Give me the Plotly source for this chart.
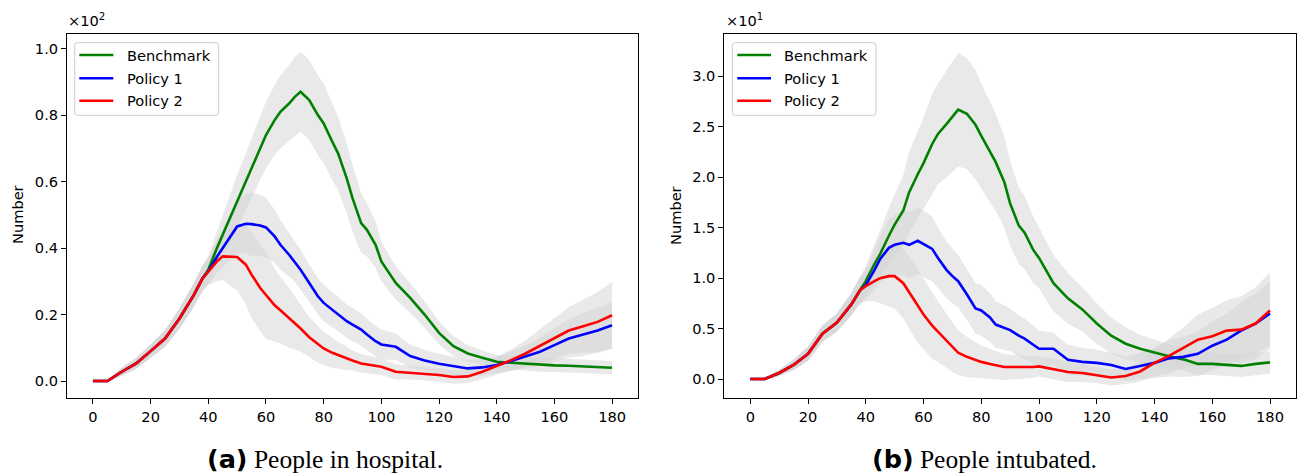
import plotly.graph_objects as go

W, H = 1304, 475

# ---------------- data ----------------
days = [0, 5, 10, 15, 20, 25, 30, 35, 38, 40, 43, 45, 48, 50, 53, 55, 58, 60,
        63, 65, 68, 70, 72, 75, 78, 80, 83, 85, 88, 90, 93, 95, 98, 100,
        105, 110, 115, 120, 125, 130, 135, 140, 145, 150, 155, 160, 165, 170, 175, 180]

series_names = ["Benchmark", "Policy 1", "Policy 2"]
series_colors = ["#008000", "#0000ff", "#ff0000"]

# (a) People in hospital (counts)
hosp_bench = [0, 0, 2.8, 5.3, 9.0, 12.8, 18.8, 25.9, 30.9,
              33.5, 40, 44, 50, 54, 60, 64, 70, 74, 78.5, 81, 83.5, 85.5, 87, 84.5, 80, 77.5,
              72, 68.5, 61, 55, 47.5, 45.5, 41, 36, 29.5, 25, 20, 14.5, 10.5, 8.3, 7.0, 5.8,
              5.5, 5.2, 4.8, 4.7, 4.6, 4.4, 4.1, 4.0]
hosp_p1 = [0, 0, 2.8, 5.3, 9.0, 12.8, 18.8, 25.9, 30.9,
           33, 37.4, 40, 43.8, 46.5, 47.3, 47.2, 46.8, 46.2, 43.5, 41, 38, 35.8, 33.5, 29.5, 25.5, 23.5,
           21.5, 20, 18, 17, 15.5, 14, 12, 11, 10.3, 7.5, 6.2, 5.2, 4.6, 3.8, 4.1, 4.8,
           6, 7.3, 8.8, 10.8, 12.8, 14, 15.2, 16.8]
hosp_p2 = [0, 0, 2.8, 5.3, 9.0, 12.8, 18.8, 25.9, 30.9,
           33, 36, 37.5, 37.4, 37.3, 35, 32, 28, 25.8, 22.8, 21.3, 19, 17.5, 15.8, 13.2, 11, 9.8,
           8.5, 7.8, 6.8, 6.2, 5.3, 5, 4.6, 4.3, 2.8, 2.5, 2.2, 1.8, 1.2, 1.4, 2.8, 4.5,
           6.3, 8.3, 10.6, 12.7, 15.2, 16.5, 17.8, 19.8]
hosp_bench_sd = [0, 0.3, 1.2, 1.6, 2, 2.5, 3, 3.5, 3.8,
                 4, 5, 6, 7, 8, 8.5, 9, 9.5, 10, 10.5, 11, 11.5, 12, 12, 12, 12, 12,
                 11.5, 11, 10.5, 10, 9, 8, 7, 6, 5, 4.5, 4, 3.5, 3, 2.5, 2.2, 2,
                 2, 2, 2, 2, 2, 2, 2, 2]
hosp_p1_sd = [0, 0.3, 1.2, 1.6, 2, 2.5, 3, 3.5, 3.8,
              4, 5, 6, 7, 8, 9, 9.5, 9.2, 9, 8, 7.5, 6.5, 6, 6, 5.5, 5.5, 5.5,
              5.2, 5, 5, 5, 4.8, 4.7, 4.6, 4.5, 4, 3.5, 3.2, 3, 2.7, 2.5, 2.5, 2.5,
              3, 3.5, 4.2, 5, 5.8, 6.5, 6.8, 7]
hosp_p2_sd = [0, 0.3, 1.2, 1.6, 2, 2.5, 3, 3.5, 3.8,
              4, 6, 7, 9, 10, 12, 13, 13, 13, 11, 10, 9, 8, 7, 6, 5.5, 5,
              4.5, 4, 3.5, 3, 2.8, 2.7, 2.6, 2.5, 2.3, 2, 2, 2, 2, 2, 2.2, 2.5,
              3.2, 4, 5, 6, 7, 8, 9, 10]

# (b) People intubated (counts)
intub_bench = [0, 0, 0.6, 1.4, 2.5, 4.5, 5.6, 7.4, 8.8,
               9.7, 11.4, 12.4, 14.2, 15.3, 16.7, 18.5, 20.3, 21.4, 23.3, 24.3, 25.3, 26.0, 26.7, 26.3, 25.2, 24.1,
               22.5, 21.5, 19.5, 17.4, 15.2, 14.5, 12.8, 12.0, 9.5, 8.0, 6.9, 5.5, 4.3, 3.5, 3.0, 2.6,
               2.25, 1.95, 1.5, 1.5, 1.4, 1.3, 1.5, 1.65]
intub_p1 = [0, 0, 0.6, 1.4, 2.5, 4.5, 5.6, 7.4, 8.8,
            9.3, 10.8, 11.9, 13.0, 13.3, 13.5, 13.3, 13.7, 13.4, 12.9, 12.0, 10.8, 10.2, 9.7, 8.4, 7.0, 6.8,
            6.1, 5.4, 5.1, 4.85, 4.3, 4.0, 3.4, 3.0, 3.0, 1.9, 1.7, 1.6, 1.4, 1.0, 1.3, 1.6,
            2.05, 2.2, 2.5, 3.3, 3.9, 4.8, 5.5, 6.5]
intub_p2 = [0, 0, 0.6, 1.4, 2.5, 4.5, 5.6, 7.4, 8.8,
            9.2, 9.7, 10.0, 10.2, 10.2, 9.5, 8.6, 7.2, 6.4, 5.3, 4.7, 3.8, 3.2, 2.6, 2.2, 1.9, 1.7,
            1.5, 1.35, 1.2, 1.2, 1.2, 1.15, 1.2, 1.25, 1.0, 0.7, 0.6, 0.4, 0.15, 0.3, 0.75, 1.6,
            2.3, 3.1, 3.9, 4.25, 4.8, 4.9, 5.5, 6.8]
intub_bench_sd = [0, 0.1, 0.3, 0.5, 0.7, 0.8, 0.9, 1.1, 1.3,
                  1.5, 2, 2.3, 2.8, 3, 3.5, 4, 4.3, 4.5, 5, 5, 5.3, 5.5, 5.6, 5.5, 5.4, 5.2,
                  5, 4.8, 4.5, 4.2, 3.8, 3.6, 3.3, 3, 2.8, 2.5, 2.2, 2, 1.8, 1.6, 1.4, 1.3,
                  1.2, 1.1, 1.1, 1.1, 1.1, 1.1, 1.1, 1.1]
intub_p1_sd = [0, 0.1, 0.3, 0.5, 0.7, 0.8, 0.9, 1.1, 1.3,
               1.5, 2, 2.3, 2.8, 3, 3.2, 3.3, 3.3, 3.3, 3.2, 3, 2.8, 2.7, 2.6, 2.5, 2.5, 2.5,
               2.4, 2.3, 2.2, 2.1, 2, 2, 1.9, 1.8, 1.6, 1.5, 1.4, 1.3, 1.2, 1.2, 1.3, 1.5,
               1.8, 2, 2.2, 2.4, 2.6, 2.8, 3, 3.2]
intub_p2_sd = [0, 0.1, 0.3, 0.5, 0.7, 0.8, 0.9, 1.1, 1.3,
               1.5, 2, 2.5, 3, 3.2, 3.5, 3.6, 3.6, 3.5, 3.3, 3, 2.7, 2.5, 2.2, 2, 1.8, 1.6,
               1.5, 1.4, 1.3, 1.2, 1.2, 1.1, 1.1, 1, 1, 1, 0.9, 0.8, 0.8, 0.8, 1, 1.3,
               1.7, 2, 2.5, 2.8, 3, 3.3, 3.6, 3.8]

x_ticks = [0, 20, 40, 60, 80, 100, 120, 140, 160, 180]
hosp_ticks = [0, 20, 40, 60, 80, 100]
hosp_ticktext = ["0.0", "0.2", "0.4", "0.6", "0.8", "1.0"]
intub_ticks = [0, 5, 10, 15, 20, 25, 30]
intub_ticktext = ["0.0", "0.5", "1.0", "1.5", "2.0", "2.5", "3.0"]

captions = [("(a)", "People in hospital."), ("(b)", "People intubated.")]
offset_labels = ["×10<sup>2</sup>", "×10<sup>1</sup>"]

# ---------------- figure ----------------
FONT = "DejaVu Sans"
FS = 14.6
BAND = "rgba(211,211,211,0.5)"


def px(x):
    return x / W


def py(y):
    return 1 - y / H


fig = go.Figure()

panels = [
    dict(xref="x", yref="y", means=[hosp_bench, hosp_p1, hosp_p2],
         sds=[hosp_bench_sd, hosp_p1_sd, hosp_p2_sd]),
    dict(xref="x2", yref="y2", means=[intub_bench, intub_p1, intub_p2],
         sds=[intub_bench_sd, intub_p1_sd, intub_p2_sd]),
]

for p in panels:
    for m, s in zip(p["means"], p["sds"]):
        upper = [a + b for a, b in zip(m, s)]
        lower = [a - b for a, b in zip(m, s)]
        fig.add_trace(go.Scatter(
            x=days + days[::-1], y=upper + lower[::-1],
            xaxis=p["xref"], yaxis=p["yref"], fill="toself", fillcolor=BAND,
            line=dict(width=0), mode="lines", hoverinfo="skip", showlegend=False))
    for m, name, col in zip(p["means"], series_names, series_colors):
        fig.add_trace(go.Scatter(
            x=days, y=m, xaxis=p["xref"], yaxis=p["yref"], mode="lines", name=name,
            line=dict(color=col, width=2.6), showlegend=False))

ax_common = dict(showline=True, mirror=True, linecolor="black", linewidth=1,
                 ticks="outside", ticklen=5, tickwidth=1, tickcolor="black",
                 showgrid=False, zeroline=False,
                 tickfont=dict(family=FONT, size=FS, color="black"))

top, bottom = 34, 398
fig.update_layout(
    width=W, height=H, margin=dict(l=0, r=0, t=0, b=0),
    paper_bgcolor="white", plot_bgcolor="white", showlegend=False,
    xaxis=dict(domain=[px(67), px(638)], range=[-9, 189], tickvals=x_ticks,
               anchor="y", **ax_common),
    yaxis=dict(domain=[py(bottom), py(top)], range=[-5.1, 104.4], tickvals=hosp_ticks,
               ticktext=hosp_ticktext, anchor="x", **ax_common),
    xaxis2=dict(domain=[px(724.3), px(1296)], range=[-9, 189], tickvals=x_ticks,
                anchor="y2", **ax_common),
    yaxis2=dict(domain=[py(bottom), py(top)], range=[-1.88, 34.2], tickvals=intub_ticks,
                ticktext=intub_ticktext, anchor="x2", **ax_common),
)

shapes = []
annotations = []


def rounded_rect(x0, y0, x1, y1, r):
    pts = [
        f"M {px(x0 + r)} {py(y0)}",
        f"L {px(x1 - r)} {py(y0)}",
        f"Q {px(x1)} {py(y0)} {px(x1)} {py(y0 + r)}",
        f"L {px(x1)} {py(y1 - r)}",
        f"Q {px(x1)} {py(y1)} {px(x1 - r)} {py(y1)}",
        f"L {px(x0 + r)} {py(y1)}",
        f"Q {px(x0)} {py(y1)} {px(x0)} {py(y1 - r)}",
        f"L {px(x0)} {py(y0 + r)}",
        f"Q {px(x0)} {py(y0)} {px(x0 + r)} {py(y0)}",
        "Z",
    ]
    return " ".join(pts)


legend_specs = [
    dict(box=(74.7, 42.7, 218.7, 115.3), line_x=(79.3, 113.3), text_x=125),
    dict(box=(732.3, 42.7, 876.0, 115.3), line_x=(737.3, 771.0), text_x=782.3),
]
legend_rows = [55.0, 78.3, 100.7]

for spec in legend_specs:
    x0, y0, x1, y1 = spec["box"]
    shapes.append(dict(type="path", xref="paper", yref="paper",
                       path=rounded_rect(x0, y0, x1, y1, 3),
                       fillcolor="rgba(255,255,255,0.8)",
                       line=dict(color="rgb(204,204,204)", width=1), layer="above"))
    for yc, name, col in zip(legend_rows, series_names, series_colors):
        shapes.append(dict(type="line", xref="paper", yref="paper",
                           x0=px(spec["line_x"][0]), x1=px(spec["line_x"][1]),
                           y0=py(yc), y1=py(yc), line=dict(color=col, width=2.6),
                           layer="above"))
        annotations.append(dict(xref="paper", yref="paper", x=px(spec["text_x"]), y=py(yc),
                                xanchor="left", yanchor="middle", showarrow=False,
                                text=name, font=dict(family=FONT, size=FS, color="black")))

# offset labels (x10^n)
for xpos, lab in zip([66, 723.5], offset_labels):
    annotations.append(dict(xref="paper", yref="paper", x=px(xpos), y=py(31),
                            xanchor="left", yanchor="bottom", showarrow=False,
                            text=lab, font=dict(family=FONT, size=FS, color="black")))

# y-axis titles
for xpos in [17, 675]:
    annotations.append(dict(xref="paper", yref="paper", x=px(xpos), y=py(215),
                            xanchor="center", yanchor="middle", showarrow=False,
                            textangle=-90, text="Number",
                            font=dict(family=FONT, size=FS, color="black")))

# captions
for xc, (tag, txt) in zip([325, 984], captions):
    annotations.append(dict(
        xref="paper", yref="paper", x=px(xc), y=py(459),
        xanchor="center", yanchor="middle", showarrow=False,
        text=f"<span style=\"font-family:DejaVu Sans;font-weight:bold\">{tag}</span> {txt}",
        font=dict(family="Liberation Serif", size=25.5, color="black")))

fig.update_layout(shapes=shapes, annotations=annotations)

fig.write_html("out.html")
